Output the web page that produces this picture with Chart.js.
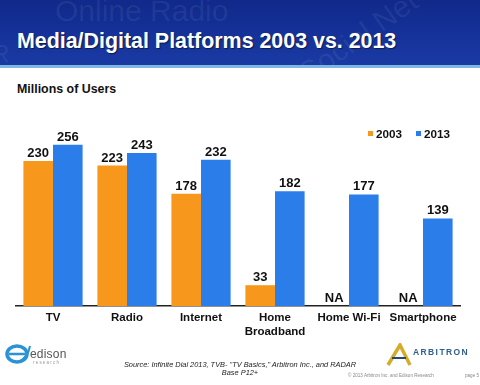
<!DOCTYPE html>
<html>
<head>
<meta charset="utf-8">
<script src="https://cdn.jsdelivr.net/npm/chart.js@4.4.1/dist/chart.umd.min.js"></script>
<style>
  body { margin: 0; width: 480px; height: 385px; overflow: hidden; background: #fff; font-family: "Liberation Sans", Arial, sans-serif; }
  #wrap { position: relative; width: 480px; height: 385px; }
  #chart { position: absolute; left: 0; top: 0; }
  .banner { position: absolute; left: 0; top: 0; width: 480px; height: 65px; overflow: hidden;
    background: linear-gradient(180deg, #10298a 0%, #16339b 60%, #1a3aa3 100%); }
  .strip { position: absolute; left: 0; top: 65px; width: 480px; height: 3px; background: #7fb6e2; }
  .ghost { position: absolute; color: rgba(255,255,255,0.07); font-size: 30px; white-space: nowrap; }
  .title { position: absolute; left: 17px; top: 29px; color: #fff; font-weight: bold; font-size: 21.4px;
    text-shadow: 1px 1px 1px rgba(0,0,0,0.5); white-space: nowrap; }
  .subtitle { position: absolute; left: 17px; top: 82px; font-weight: bold; font-size: 12.4px; color: #111; }
  #legend { position: absolute; left: 368px; top: 127px; font-weight: bold; font-size: 11.7px; color: #111; white-space: nowrap; }
  #legend span.item { display: inline-block; margin-right: 14px; }
  #legend i { display: inline-block; width: 5px; height: 5px; margin-right: 3px; vertical-align: 2px; }
  .source { position: absolute; left: 100px; width: 280px; top: 361px; text-align: center; font-style: italic;
    font-size: 7.4px; line-height: 7.5px; color: #222; }
  .copy { position: absolute; left: 348px; top: 373px; font-size: 4.6px; color: #888; white-space: nowrap; }
  .page { position: absolute; left: 465px; top: 373px; font-size: 4.6px; color: #888; }
  .edison { position: absolute; left: 30px; top: 347px; font-size: 12px; color: #555; letter-spacing: 0.2px; }
  .research { position: absolute; left: 33px; top: 360px; font-size: 4.5px; color: #999; letter-spacing: 1.2px; }
  .arb { position: absolute; left: 413px; top: 347px; font-size: 8.5px; font-weight: bold; color: #2f5f8f; letter-spacing: 1.4px; }
</style>
</head>
<body>
<div id="wrap">
  <div class="banner">
    <div class="ghost" style="left:55px; top:-6px;">Online Radio</div>
    <div class="ghost" style="left:290px; top:20px; transform: rotate(-35deg);">Social Net</div>
    <div class="ghost" style="left:-8px; top:40px; font-size:24px;">R</div>
  </div>
  <div class="strip"></div>
  <div class="title">Media/Digital Platforms 2003 vs. 2013</div>
  <div class="subtitle">Millions of Users</div>
  <canvas id="chart" width="480" height="385"></canvas>
  <div id="legend"></div>

  <svg style="position:absolute; left:4px; top:342px;" width="30" height="26" viewBox="0 0 30 26">
    <ellipse cx="13" cy="12" rx="10" ry="8" fill="none" stroke="#2a93d5" stroke-width="3.5"/>
    <path d="M5 12 H21" stroke="#2a93d5" stroke-width="2.5"/>
    <path d="M14 20 Q24 16 26 4" fill="none" stroke="#2a93d5" stroke-width="2"/>
  </svg>
  <div class="edison">edison</div>
  <div class="research">research</div>

  <svg style="position:absolute; left:386px; top:343px;" width="26" height="24" viewBox="0 0 26 24">
    <path d="M2 22 L14 2 L24 22" fill="none" stroke="#d6ab2a" stroke-width="3.5"/>
    <path d="M6 15 L20 15" stroke="#1f4a7a" stroke-width="2"/>
  </svg>
  <div class="arb">ARBITRON</div>

  <div class="source">Source: Infinite Dial 2013, TVB- "TV Basics," Arbitron Inc., and RADAR<br>Base P12+</div>
  <div class="copy">© 2013 Arbitron Inc. and Edison Research</div>
  <div class="page">page 5</div>
</div>

<script>
// --- Data ---
const categories = ['TV', 'Radio', 'Internet', ['Home', 'Broadband'], 'Home Wi-Fi', 'Smartphone'];
const seriesLabels = ['2003', '2013'];
const users2003 = [230, 223, 178, 33, null, null];
const users2013 = [256, 243, 232, 182, 177, 139];
const seriesColors = ['#f7981d', '#2b7de9'];

const FONT = '"Liberation Sans", Arial, sans-serif';

// --- Value labels above bars ("NA" where there is no value) ---
const valueLabels = {
    id: 'valueLabels',
    afterDatasetsDraw(chart) {
        const ctx = chart.ctx;
        const yScale = chart.scales.y;
        ctx.save();
        ctx.font = 'bold 13px ' + FONT;
        ctx.fillStyle = '#111';
        ctx.textAlign = 'center';
        ctx.textBaseline = 'alphabetic';
        chart.data.datasets.forEach((ds, di) => {
            const meta = chart.getDatasetMeta(di);
            meta.data.forEach((bar, i) => {
                const v = ds.data[i];
                if (v === null) {
                    ctx.fillText('NA', bar.x, yScale.getPixelForValue(0) - 4);
                } else {
                    ctx.fillText(String(v), bar.x, bar.y - 4);
                }
            });
        });
        ctx.restore();
    }
};

// --- Legend (HTML) ---
const legendEl = document.getElementById('legend');
seriesLabels.forEach((lbl, i) => {
    const item = document.createElement('span');
    item.className = 'item';
    item.innerHTML = `<i style="background:${seriesColors[i]}"></i>${lbl}`;
    legendEl.appendChild(item);
});

// --- Chart ---
new Chart(document.getElementById('chart').getContext('2d'), {
    type: 'bar',
    data: {
        labels: categories,
        datasets: [
            { label: seriesLabels[0], data: users2003, backgroundColor: seriesColors[0], borderWidth: 0 },
            { label: seriesLabels[1], data: users2013, backgroundColor: seriesColors[1], borderWidth: 0 }
        ]
    },
    options: {
        responsive: false,
        animation: false,
        layout: { padding: { top: 117, left: 16, right: 20, bottom: 0 } },
        datasets: { bar: { categoryPercentage: 0.8, barPercentage: 1.0 } },
        scales: {
            x: {
                grid: { display: false, drawTicks: false },
                border: { color: '#222', width: 1.5 },
                ticks: { color: '#111', font: { family: FONT, weight: 'bold', size: 11.5 }, padding: 5,
                         maxRotation: 0, autoSkip: false },
                afterFit(scale) { scale.height = 79; }
            },
            y: { display: false, min: 0, max: 300 }
        },
        plugins: { legend: { display: false }, tooltip: { enabled: false } }
    },
    plugins: [valueLabels]
});
</script>
</body>
</html>
